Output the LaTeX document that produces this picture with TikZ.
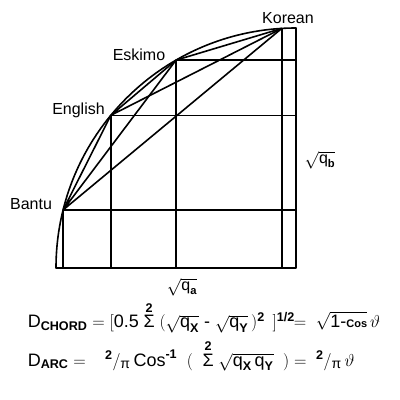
\documentclass[tikz,border=0pt]{standalone}
\usepackage{amsmath}
\usepackage{fontspec}
\setmainfont{Liberation Sans}
\usetikzlibrary{positioning}
\newcommand{\sq}[1]{\sqrt{\text{q}_{\textbf{#1}}}}
\newcommand{\twopi}{{}^{\textbf{2}}/{}_{\text{\fontsize{14}{16}\selectfont π}}}

\begin{document}
\begin{tikzpicture}[x=1pt,y=1pt,line width=1.6pt,line join=round]
\tikzset{lab/.style={font=\fontsize{16}{19}\selectfont,inner sep=0pt},
  eqn/.style={font=\fontsize{18}{22}\selectfont,inner sep=0pt,anchor=base west}}
\useasboundingbox (0,0) rectangle (400,400);
\coordinate (O) at (296,132);
\path (O) ++(93.4:240) coordinate (Korean);
\path (O) ++(120:240) coordinate (Eskimo);
\path (O) ++(140.5:240) coordinate (English);
\path (O) ++(166:240) coordinate (Bantu);
\path (O) ++(180:240) coordinate (rim);
\draw (rim) arc (180:90:240) -- (O) -- cycle;
\draw (Korean) -- (Korean |- O) (Korean) -- (Korean -| O);
\draw (Eskimo) -- (Eskimo |- O) (Eskimo) -- (Eskimo -| O);
\draw (English) -- (English |- O) (English) -- (English -| O);
\draw (Bantu) -- (Bantu |- O) (Bantu) -- (Bantu -| O);
\draw (Bantu) -- (English) (Bantu) -- (Eskimo) (Bantu) -- (Korean);
\draw (English) -- (Eskimo) (English) -- (Korean);
\draw (Eskimo) -- (Korean);
\node[lab] (korean) at (288,382) {Korean};
\node[lab] (eskimo) at (139,345) {Eskimo};
\node[lab,anchor=base] (english) at (78.5,285.5) {English};
\node[lab] (bantu) at (31,196) {Bantu};
\node[lab] (qb) at (320,240) {$\sq{b}$};
\node[lab] (qa) at (182,113) {$\sq{a}$};
\node[eqn] (dchord) at (27,72)
  {$\text{D}_{\textbf{CHORD}}=[\text{0.5}\;\overset{\textbf{2}}{\text{Σ}}\;(\sq{X}\text{ - }\sq{Y}\,)^{\textbf{2}}\;\,]^{\textbf{1/2}}\!\!=\;\sqrt{\text{1-\fontsize{11}{13}\bfseries Cos}}\,\vartheta$};
\node[eqn] (darc) at (27,34)
  {$\text{D}_{\textbf{ARC}}=\;\;\;\twopi\,\text{Cos}^{\textbf{-1}}\;\;(\;\;\overset{\textbf{2}}{\text{Σ}}\;\sqrt{\text{q}_{\textbf{X}}\,\text{q}_{\textbf{Y}}}\;\;)=\;\twopi\,\vartheta$};
\end{tikzpicture}
\end{document}
